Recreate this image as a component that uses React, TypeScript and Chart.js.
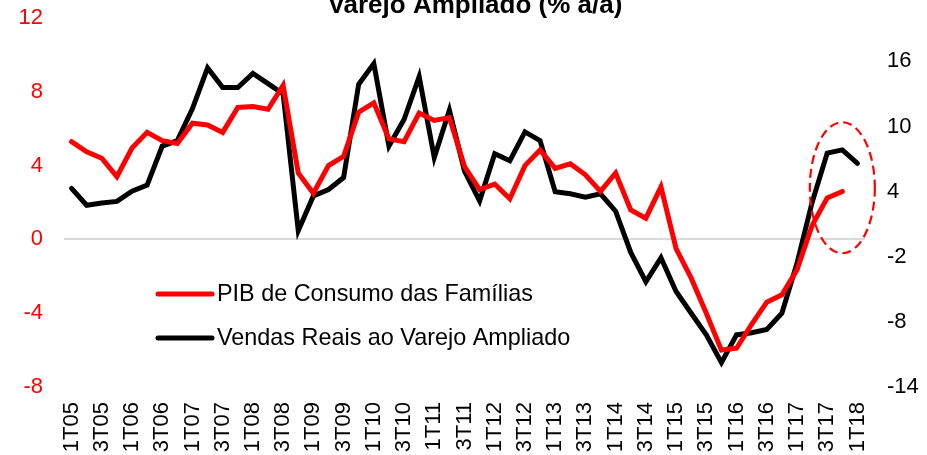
import React, { useEffect, useRef } from "react";
import { Chart, registerables } from "chart.js";

Chart.register(...registerables);

const quarters = [
  "1T05","2T05","3T05","4T05","1T06","2T06","3T06","4T06",
  "1T07","2T07","3T07","4T07","1T08","2T08","3T08","4T08",
  "1T09","2T09","3T09","4T09","1T10","2T10","3T10","4T10",
  "1T11","2T11","3T11","4T11","1T12","2T12","3T12","4T12",
  "1T13","2T13","3T13","4T13","1T14","2T14","3T14","4T14",
  "1T15","2T15","3T15","4T15","1T16","2T16","3T16","4T16",
  "1T17","2T17","3T17","4T17","1T18",
];

const pibConsumo = [
  5.3, 4.75, 4.4, 3.4, 4.95, 5.8, 5.35, 5.2,
  6.3, 6.2, 5.8, 7.15, 7.2, 7.05, 8.35, 3.6,
  2.5, 4.0, 4.5, 6.9, 7.4, 5.45, 5.3, 6.85,
  6.45, 6.6, 3.95, 2.7, 3.0, 2.2, 4.0, 4.85,
  3.85, 4.1, 3.5, 2.6, 3.6, 1.6, 1.15, 2.85,
  -0.5, -2.1, -4.0, -6.0, -5.9, -4.6, -3.4, -3.0,
  -1.65, 0.75, 2.25, 2.6, null,
];

const vendasVarejo = [
  4.3, 2.75, 2.95, 3.1, 4.05, 4.6, 8.2, 8.7,
  11.65, 15.4, 13.6, 13.6, 14.9, 13.95, 13.0, 0.4,
  3.6, 4.2, 5.3, 13.9, 15.8, 8.2, 10.65, 14.6,
  7.15, 11.5, 5.9, 3.15, 7.5, 6.85, 9.5, 8.7,
  4.0, 3.8, 3.5, 3.8, 2.2, -1.6, -4.3, -2.1,
  -5.2, -7.2, -9.2, -11.75, -9.2, -9.0, -8.7, -7.2,
  -2.6, 3.0, 7.55, 7.85, 6.6,
];

const leftTicks = { min: -8, max: 12, step: 4 };
const rightTickValues = [-14, -8, -2, 4, 10, 16];
const rightRange = { min: -14, max: 20 };

const titleText = "Varejo Ampliado (% a/a)";
const seriesLabels = ["PIB de Consumo das Famílias", "Vendas Reais ao Varejo Ampliado"];

const FONT = "'Liberation Sans', Arial, sans-serif";

const titlePlugin = {
  id: "cutTitle",
  afterDraw(chart: any) {
    const ctx = chart.ctx;
    ctx.save();
    ctx.font = `bold 26px ${FONT}`;
    ctx.fillStyle = "#000";
    ctx.textAlign = "center";
    ctx.textBaseline = "alphabetic";
    ctx.fillText(titleText, 475, 13);
    ctx.restore();
  },
};

const legendPlugin = {
  id: "innerLegend",
  afterDraw(chart: any) {
    const ctx = chart.ctx;
    const area = chart.chartArea;
    const x0 = area.left + 94;
    const x1 = area.left + 148;
    const rows = [area.top + 276, area.top + 320];
    ctx.save();
    chart.data.datasets.forEach((ds: any, i: number) => {
      const y = rows[i];
      ctx.beginPath();
      ctx.strokeStyle = ds.borderColor;
      ctx.lineWidth = 5;
      ctx.lineCap = "round";
      ctx.moveTo(x0, y);
      ctx.lineTo(x1, y);
      ctx.stroke();
      ctx.font = `23.4px ${FONT}`;
      ctx.fillStyle = "#000";
      ctx.textAlign = "left";
      ctx.textBaseline = "middle";
      ctx.fillText(ds.label, x1 + 5, y + 1);
    });
    ctx.restore();
  },
};

const ellipsePlugin = {
  id: "highlightEllipse",
  afterDatasetsDraw(chart: any) {
    const xs = chart.scales.x;
    const ys = chart.scales.y;
    const cx = xs.getPixelForValue(51);
    const cy = ys.getPixelForValue(2.8);
    const ctx = chart.ctx;
    ctx.save();
    ctx.beginPath();
    ctx.setLineDash([9, 5]);
    ctx.strokeStyle = "#FF0000";
    ctx.lineWidth = 2.2;
    ctx.ellipse(cx, cy, 32.5, 65.5, 0, 0, Math.PI * 2);
    ctx.stroke();
    ctx.restore();
  },
};

export default function App() {
  const ref = useRef<HTMLCanvasElement>(null);
  useEffect(() => {
    if (!ref.current) return;
    const chart = new Chart(ref.current, {
      type: "line",
      data: {
        labels: quarters,
        datasets: [
          {
            label: seriesLabels[0],
            data: pibConsumo,
            borderColor: "#FF0000",
            backgroundColor: "#FF0000",
            borderWidth: 5,
            pointRadius: 0,
            tension: 0,
            yAxisID: "y",
            borderCapStyle: "round",
          },
          {
            label: seriesLabels[1],
            data: vendasVarejo,
            borderColor: "#000000",
            backgroundColor: "#000000",
            borderWidth: 5,
            pointRadius: 0,
            tension: 0,
            yAxisID: "y1",
            borderCapStyle: "round",
          },
        ],
      },
      options: {
        responsive: false,
        animation: false,
        layout: { padding: { top: 18, left: 0, right: 0, bottom: 0 } },
        plugins: {
          legend: { display: false },
          title: { display: false },
          tooltip: { enabled: false },
        },
        scales: {
          x: {
            offset: true,
            grid: { display: false, drawTicks: false },
            border: { display: false },
            ticks: {
              autoSkip: false,
              minRotation: 90,
              maxRotation: 90,
              padding: 15,
              color: "#000",
              font: { family: FONT, size: 22 },
              callback: (_v: any, i: number) => (i % 2 === 0 ? quarters[i] : ""),
            },
            afterFit: (s: any) => { s.height = 68; },
          },
          y: {
            position: "left",
            min: leftTicks.min,
            max: leftTicks.max,
            grid: {
              drawTicks: false,
              lineWidth: 2,
              color: (c: any) => (c.tick && c.tick.value === 0 ? "#d9d9d9" : "rgba(0,0,0,0)"),
            },
            border: { display: false },
            ticks: {
              stepSize: leftTicks.step,
              padding: 21,
              color: "#FF0000",
              font: { family: FONT, size: 22 },
            },
            afterFit: (s: any) => { s.width = 64; s.paddingTop = 0; s.paddingBottom = 0; },
          },
          y1: {
            position: "right",
            min: rightRange.min,
            max: rightRange.max,
            grid: { display: false, drawTicks: false },
            border: { display: false },
            afterBuildTicks: (s: any) => {
              s.ticks = rightTickValues.map((v) => ({ value: v }));
            },
            ticks: {
              padding: 22,
              color: "#000",
              font: { family: FONT, size: 22 },
            },
            afterFit: (s: any) => { s.width = 62; s.paddingTop = 0; s.paddingBottom = 0; },
          },
        },
      },
      plugins: [titlePlugin, legendPlugin, ellipsePlugin],
    } as any);
    return () => chart.destroy();
  }, []);
  return (
    <div style={{ position: "fixed", left: 0, top: 0, width: 927, height: 455, background: "#fff" }}>
      <canvas ref={ref} width={927} height={455} style={{ display: "block" }} />
    </div>
  );
}
